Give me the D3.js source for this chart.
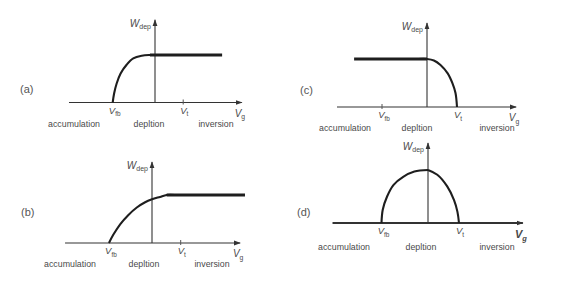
<!DOCTYPE html>
<html>
<head>
<meta charset="utf-8">
<script src="https://cdn.jsdelivr.net/npm/d3@7/dist/d3.min.js"></script>
<style>
  body { margin: 0; background: #fff; }
  svg { display: block; font-family: "Liberation Sans", Arial, sans-serif; }
</style>
</head>
<body>
<div id="chart"></div>
<script>
let w = 568;
let h = 303;

// gate voltage in units where Vfb = -1.5 and Vt = 1, W in units of Wmax
const vfb = -1.5;
const vt = 1;
const regions = ["accumulation", "depltion", "inversion"];
const panelNames = ["(a)", "(b)", "(c)", "(d)"];

// (a) ideal curve
const vgA = [-1.5, -1.45, -1.36, -1.22, -1.0, -0.77, -0.47, -0.18, 0.1];
const wA = [0, 0.19, 0.40, 0.61, 0.80, 0.93, 0.985, 1, 1];
const flatA = [-0.18, 2.38];

// (b)
const vgB = [-1.5, -1.35, -1.11, -0.83, -0.53, -0.24, 0, 0.28, 0.51, 0.8];
const wB = [0, 0.17, 0.39, 0.58, 0.74, 0.85, 0.91, 0.96, 1, 1];
const flatB = [0.51, 3.24];

// (c)
const vgC = [-0.3, 0, 0.23, 0.45, 0.69, 0.85, 0.95, 1];
const wC = [1, 1, 0.97, 0.875, 0.70, 0.49, 0.29, 0];
const flatC = [-2.43, 0];

// (d) two branches meeting at the peak
const vgD1 = [-1.5, -1.46, -1.32, -1.11, -0.80, -0.44, 0];
const wD1 = [0, 0.25, 0.50, 0.72, 0.87, 0.97, 1];
const vgD2 = [0, 0.30, 0.62, 0.84, 0.95, 1];
const wD2 = [1, 0.91, 0.69, 0.43, 0.21, 0];

let svg = d3.select("#chart").append("svg")
  .attr("width", w)
  .attr("height", h)
  .attr("viewBox", "0 0 " + w + " " + h);

let defs = svg.append("defs");
defs.append("marker")
  .attr("id", "arr")
  .attr("viewBox", "0 0 10 10")
  .attr("refX", 9).attr("refY", 5)
  .attr("markerWidth", 7).attr("markerHeight", 7)
  .attr("markerUnits", "userSpaceOnUse")
  .attr("orient", "auto")
  .append("path")
    .attr("d", "M0,1.5 L10,5 L0,8.5 Z")
    .attr("fill", "#333");

const textCol = "#4a4a4a";

function zip(a, b) { return a.map((v, i) => [v, b[i]]); }

// layout of each panel (origin x, x-axis y, px per volt, px per Wmax ...)
let panels = [
  {name: panelNames[0], ox: 155, ay: 102.5, ux: 28.2, uy: 47.5, xMin: -3.05, xMax: 3.08, yMax: 1.74,
   curves: [zip(vgA, wA)], flat: flatA, ticks: [vt], lab: [20, 93], regY: 127, regDx: [-81, -6, 61], vgBold: false, axW: 1.1},
  {name: panelNames[1], ox: 152, ay: 243, ux: 28.7, uy: 48, xMin: -3.03, xMax: 3.07, yMax: 1.69,
   curves: [zip(vgB, wB)], flat: flatB, ticks: [vt], lab: [21, 216], regY: 267, regDx: [-82, -8, 60], vgBold: false, axW: 1.1},
  {name: panelNames[2], ox: 427, ay: 107, ux: 30, uy: 48, xMin: -3.0, xMax: 2.97, yMax: 1.75,
   curves: [zip(vgC, wC)], flat: flatC, ticks: [vfb], lab: [300, 94], regY: 131, regDx: [-82, -10, 70], vgBold: false, axW: 1.1},
  {name: panelNames[3], ox: 428, ay: 223, ux: 31, uy: 53, xMin: -3.08, xMax: 3.06, yMax: 1.51,
   curves: [zip(vgD1, wD1), zip(vgD2, wD2)], flat: null, ticks: [], lab: [297, 216], regY: 250, regDx: [-84, -7, 69], vgBold: true, axW: 1.8}
];

function vLabel(g, x, y, sub, size, bold) {
  let t = g.append("text")
    .attr("x", x).attr("y", y)
    .attr("text-anchor", "middle")
    .attr("fill", textCol)
    .attr("font-size", size);
  t.append("tspan").attr("font-style", "italic").attr("font-weight", bold ? "bold" : null).text("V");
  t.append("tspan").attr("font-size", size * 0.68).attr("dy", size * 0.28)
    .attr("font-weight", bold ? "bold" : null).attr("font-style", bold ? "italic" : null).text(sub);
  return t;
}

panels.forEach(p => {
  let g = svg.append("g");
  let x = d3.scaleLinear().domain([0, 1]).range([p.ox, p.ox + p.ux]);
  let y = d3.scaleLinear().domain([0, 1]).range([p.ay, p.ay - p.uy]);

  // axes
  g.append("line")
    .attr("x1", x(p.xMin)).attr("x2", x(p.xMax))
    .attr("y1", y(0)).attr("y2", y(0))
    .attr("stroke", "#333").attr("stroke-width", p.axW)
    .attr("marker-end", "url(#arr)");
  g.append("line")
    .attr("x1", x(0)).attr("x2", x(0))
    .attr("y1", y(0)).attr("y2", y(p.yMax))
    .attr("stroke", "#333").attr("stroke-width", 1.1)
    .attr("marker-end", "url(#arr)");

  // small ticks
  g.selectAll(".tk").data(p.ticks).enter().append("line")
    .attr("x1", d => x(d)).attr("x2", d => x(d))
    .attr("y1", y(0) - 3).attr("y2", y(0) + 2)
    .attr("stroke", "#555").attr("stroke-width", 1);

  // curve(s)
  let line = d3.line().x(d => x(d[0])).y(d => y(d[1])).curve(d3.curveCatmullRom.alpha(0.5));
  p.curves.forEach(c => {
    g.append("path")
      .attr("d", line(c))
      .attr("fill", "none")
      .attr("stroke", "#1e1e1e")
      .attr("stroke-width", 2.1);
  });

  if (p.flat) {
    g.append("line")
      .attr("x1", x(p.flat[0])).attr("x2", x(p.flat[1]))
      .attr("y1", y(1)).attr("y2", y(1))
      .attr("stroke", "#1e1e1e").attr("stroke-width", 2.8);
  }

  // W_dep label
  let wl = g.append("text")
    .attr("x", x(0) - 4).attr("y", y(p.yMax) + 7)
    .attr("text-anchor", "end")
    .attr("fill", textCol)
    .attr("font-size", 10);
  wl.append("tspan").attr("font-style", "italic").text("W");
  wl.append("tspan").attr("font-size", 7).attr("dy", 2).text("dep");

  // Vfb, Vt, Vg
  vLabel(g, x(vfb) + 2, y(0) + 11, "fb", 9.5, false);
  vLabel(g, x(vt) + 1, y(0) + 11, "t", 9.5, false);
  vLabel(g, x(p.xMax) - 2, y(0) + (p.vgBold ? 15 : 14), "g", p.vgBold ? 11 : 10, p.vgBold);

  // regions
  g.selectAll(".reg").data(regions).enter().append("text")
    .attr("x", (d, i) => p.ox + p.regDx[i])
    .attr("y", p.regY)
    .attr("text-anchor", "middle")
    .attr("fill", textCol)
    .attr("font-size", 8.8)
    .text(d => d);

  g.append("text")
    .attr("x", p.lab[0]).attr("y", p.lab[1])
    .attr("fill", "#555")
    .attr("font-size", 11)
    .text(p.name);
});
</script>
</body>
</html>
